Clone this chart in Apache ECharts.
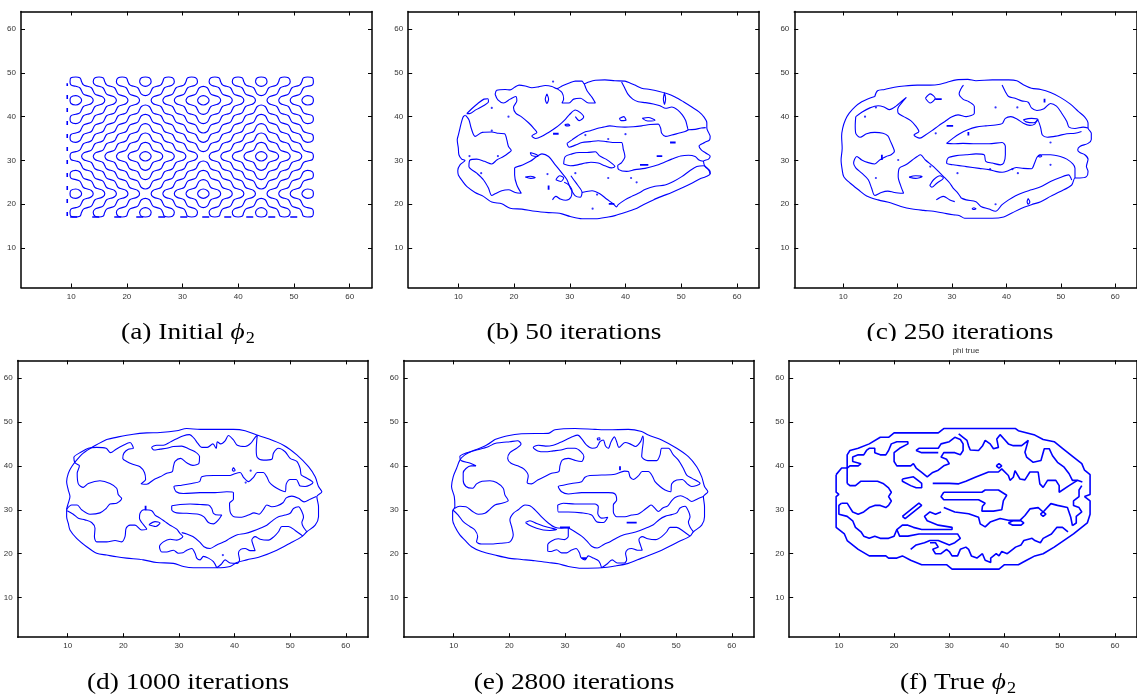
<!DOCTYPE html>
<html><head><meta charset="utf-8">
<script src="https://cdn.jsdelivr.net/npm/echarts/dist/echarts.min.js"></script>
<style>html,body{margin:0;padding:0;background:#fff}#c{width:1137px;height:699px}</style>
</head><body><div id="c"></div>
<script>
// ================= DATA =================
const tickValues = [10, 20, 30, 40, 50, 60];
const captions = ["(a) Initial ", "(b) 50 iterations", "(c) 250 iterations", "(d) 1000 iterations", "(e) 2800 iterations", "(f) True "];

// ---- Panel (a): initial checker pattern: grid lines, cell signs, saddle turn directions
const aLinesX = [9.8,11.88,13.96,16.04,18.12,20.2,22.28,24.36,26.44,28.52,30.6,32.68,34.76,36.84,38.92,41.0,43.08,45.16,47.24,49.32,51.4,53.48];
const aLinesY = [17.1,19.23,21.36,23.49,25.62,27.75,29.88,32.01,34.14,36.27,38.4,40.53,42.66,44.79,46.92,49.05];
const aCells = [
"-+-+-+-+-+-+-+-+-+-+-","+-+-+-+-+-+-+-+-+-+-+","-+-+-+-+-+-+-+-+-+-+-","+-+-+-+-+-+-+-+-+-+-+",
"-+-+-+-+-+-+-+-+-+-+-","+-+-+-+-+-+-+-+-+-+-+","-+-+-+-+-+-+-+-+-+-+-","+-+-+-+-+-+-+-+-+-+-+",
"-+-+-+-+-+-+-+-+-+-+-","+-+-+-+-+-+-+-+-+-+-+","-+-+-+-+-+-+-+-+-+-+-","+-+-+-+-+-+-+-+-+-+-+",
"-+-+-+-+-+-+-+-+-+-+-","+-+-+-+-+-+-+-+-+-+-+","-+-+-+-+-+-+-+-+-+-+-"];
const aTurns = [
"FFFFFFRRRRRFFFFFRRRR","FFFFFFRRRRRFFFFFRRRR",
"RRRRRRFFFFFRRRRRFFFF","RRRRRRFFFFFRRRRRFFFF","RRRRRRFFFFFRRRRRFFFF","RRRRRRFFFFFRRRRRFFFF","RRRRRRFFFFFRRRRRFFFF","RRRRRRFFFFFRRRRRFFFF",
"FFFFFFRRRRRFFFFFRRRR","FFFFFFRRRRRFFFFFRRRR","FFFFFFRRRRRFFFFFRRRR","FFFFFFRRRRRFFFFFRRRR",
"RRRRRRFFFFFRRRRRFFFF","RRRRRRFFFFFRRRRRFFFF"];
const aEdgeDashLeft = [9.3, 17.3, 9.3, 47.6];
const aEdgeDashBottom = [9.3, 17.1, 52.2, 17.1];

// ---- Panel (b): 50 iterations
const bOuter = [16.6,45.1, 16.9,46.0, 18.4,46.2, 19.3,46.1, 20.1,46.7, 20.9,47.2, 22.0,47.0, 23.2,46.6, 24.4,46.8, 25.6,47.1, 26.8,46.9, 27.7,46.4, 28.6,47.0, 29.8,47.6, 31.0,48.1, 32.2,48.1, 32.6,47.5, 33.4,47.9, 34.6,48.3, 36.3,48.4, 38.1,48.2, 39.9,48.1, 40.8,47.7, 41.7,47.2, 42.9,46.5, 44.4,46.2, 45.9,45.8, 47.4,45.3, 48.9,44.5, 50.4,43.4, 51.9,42.2, 53.2,41.1, 54.1,39.9, 54.6,38.6, 54.6,37.4, 54.9,36.4, 55.2,35.5, 55.1,34.7, 54.2,34.1, 53.2,33.3, 53.6,32.4, 54.4,31.7, 55.2,31.0, 54.9,30.3, 54.0,29.8, 54.3,28.6, 55.2,27.5, 55.2,26.9, 54.4,26.3, 53.4,25.8, 51.9,24.8, 50.1,23.7, 48.3,22.7, 46.5,21.8, 45.0,21.0, 43.2,19.9, 41.7,18.9, 39.9,18.1, 38.1,17.4, 36.9,17.1, 34.6,16.7, 32.2,16.7, 30.1,17.2, 28.6,17.8, 27.7,18.0, 26.2,18.1, 23.8,18.4, 21.4,18.9, 19.3,19.1, 17.8,20.1, 16.0,20.5, 14.5,21.8, 13.0,22.7, 11.5,24.1, 10.9,25.0, 10.0,26.7, 9.9,27.7, 10.3,29.0, 11.2,30.0, 10.6,30.3, 10.1,31.3, 10.0,32.8, 9.8,34.7, 10.0,35.8, 10.3,37.4, 10.6,38.9, 10.9,40.0, 11.3,40.3];
const bLeft = [11.3,40.3, 11.9,39.3, 12.3,37.4, 13.0,35.5, 14.3,36.4, 16.0,36.5, 17.2,36.2, 18.3,36.1, 18.7,34.7, 19.0,33.2, 19.5,32.3, 19.0,31.7, 18.1,30.9, 16.9,30.1, 16.0,29.2, 14.7,29.8, 13.3,30.3, 12.1,30.1, 11.9,28.6, 13.3,27.1, 14.5,25.6, 15.4,23.7, 16.0,22.0, 16.6,22.4, 17.8,23.1, 19.0,23.3, 20.2,22.7, 21.3,22.5, 20.5,24.4, 20.1,26.7, 20.1,28.2, 21.4,28.9, 22.9,29.8, 24.1,30.9, 25.0,31.5, 26.2,30.9, 27.4,29.0, 28.6,27.1, 29.5,25.6, 30.1,23.7, 31.0,21.9, 31.9,21.6, 32.2,22.7, 31.4,24.4, 30.7,25.6, 30.2,26.5];
const bTop = [16.6,45.1, 17.1,43.8, 18.1,43.1, 19.3,44.0, 20.3,44.6, 20.5,43.6, 19.9,42.1, 20.3,40.8, 21.4,39.9, 22.6,38.6, 23.5,37.4, 24.1,36.4, 23.2,35.6, 23.9,35.0, 25.0,35.5, 26.2,36.4, 27.4,37.4, 28.3,38.3, 29.2,39.4, 29.9,40.4, 31.0,41.5, 31.9,40.9, 32.5,39.9, 31.7,39.1, 31.0,40.0];
const bNotch = [27.7,46.4, 28.6,45.5, 28.9,44.0, 28.6,43.1, 29.8,43.1, 30.7,44.0, 31.9,44.2, 33.4,43.1, 34.6,43.1, 34.0,44.4, 33.1,45.9, 32.6,47.5];
const bRightTop = [39.3,47.9, 39.8,46.7, 40.4,45.2, 41.3,44.0, 42.3,43.4, 43.6,43.2, 45.0,42.9, 46.2,42.5, 47.2,41.9, 48.3,42.2, 49.4,41.5, 50.2,40.4, 50.8,39.1, 51.1,37.7, 51.3,37.0, 52.5,37.1, 53.6,37.4, 54.4,37.5];
const bMidTop = [29.5,33.9, 30.4,34.7, 31.4,35.6, 32.5,36.4, 33.7,36.8, 34.9,37.3, 36.0,37.6, 37.2,37.9, 38.4,37.7, 39.9,37.6, 41.4,37.7, 42.9,37.9, 44.4,38.2, 45.9,38.3, 46.3,37.4, 46.5,36.2, 47.2,35.5, 48.3,35.8, 49.5,36.2, 50.7,36.6, 51.3,37.0];
const bMidBot = [29.5,33.9, 29.9,33.0, 31.0,33.5, 32.2,34.1, 33.7,34.3, 35.1,34.5, 36.6,34.3, 38.1,34.1, 39.3,34.1, 39.6,32.6, 39.9,30.9, 39.3,29.5, 38.6,28.8, 38.8,27.9, 40.2,27.5, 41.7,27.9, 43.5,28.2, 45.3,28.8, 46.8,29.5, 48.3,30.3, 49.9,31.0, 51.3,31.2, 52.5,30.9, 53.2,30.1, 54.0,29.8];
const bLowMid = [26.9,21.0, 27.5,21.8, 28.3,21.2, 29.3,20.9, 30.2,21.6, 30.4,23.1, 29.8,24.4, 29.0,25.0];
const bLowRight = [32.2,22.7, 34.0,23.1, 35.4,22.4, 36.6,21.2, 37.8,20.1, 38.4,19.4, 38.7,19.9, 39.9,21.0, 41.1,21.8, 42.3,22.5, 43.6,23.4, 45.3,24.1, 47.1,24.4, 48.6,25.2, 50.1,26.3, 51.6,27.7, 52.8,28.6, 54.0,28.8, 54.9,27.9, 55.2,26.9];
const bLoops = [
  [11.5,40.7, 12.4,41.8, 13.5,43.0, 14.6,44.0, 15.3,44.1, 15.4,43.4, 14.5,42.5, 13.2,41.6, 12.0,40.7],
  [28.9,29.2, 29.2,30.9, 30.4,31.5, 31.7,31.8, 33.1,31.8, 34.6,32.0, 35.3,31.1, 36.5,30.3, 37.5,29.4, 38.1,28.6, 37.5,28.3, 36.3,28.8, 35.1,29.4, 33.8,29.6, 32.8,29.4, 31.4,29.0, 30.1,28.8],
  [25.9,45.2, 26.2,44.0, 25.9,43.0, 25.6,44.0],
  [47.0,45.5, 47.2,44.1, 47.0,42.8, 46.8,44.1],
  [29.1,38.2, 29.7,38.3, 30.0,38.0, 29.4,37.9],
  [22.0,26.2, 23.0,26.4, 23.8,26.1, 23.0,25.9],
  [22.9,31.8, 24.1,31.3, 24.3,30.9, 23.2,31.1],
  [27.5,25.6, 28.2,26.5, 28.9,26.0, 28.4,25.2],
  [38.9,39.6, 39.7,40.0, 40.1,39.2, 39.2,39.1],
  [43.0,39.6, 44.1,39.8, 45.3,39.2, 44.0,39.0]
];
const bBars = [[27.0,36.1, 28.0,36.1], [42.6,29.0, 44.1,29.0], [45.6,31.0, 46.6,31.0], [48.0,34.1, 49.0,34.1], [26.2,23.3, 26.2,24.3], [37.0,20.1, 38.0,20.1]];
const bDots = [16.0,36.8, 17.1,31.0, 14.1,27.1, 26.0,26.9, 31.0,27.1, 36.9,26.0, 41.0,26.0, 42.0,25.0, 34.9,22.2, 34.1,19.0, 32.8,35.8, 36.9,34.9, 19.0,40.0, 12.0,31.0, 16.0,42.0, 40.0,36.0, 27.0,48.0];

// ---- Panel (c): 250 iterations
const cOuter = [15.8,44.6, 16.3,45.9, 17.6,46.2, 19.4,46.7, 21.2,47.0, 23.6,47.2, 26.0,47.2, 27.8,47.4, 29.0,47.8, 30.8,48.4, 32.9,48.5, 34.4,48.2, 37.4,48.4, 40.4,48.4, 41.9,48.2, 43.1,47.3, 44.6,46.5, 46.3,46.2, 48.1,45.5, 49.9,44.4, 51.7,42.9, 53.2,41.2, 54.4,39.9, 55.0,38.5, 55.0,37.4, 55.6,36.2, 55.6,34.8, 55.0,33.9, 53.5,33.2, 53.1,32.4, 53.5,31.8, 54.4,31.3, 55.0,30.3, 54.7,28.6, 55.0,27.5, 54.7,26.3, 53.5,26.0, 52.6,26.0, 52.0,24.4, 49.9,22.9, 48.1,21.8, 46.3,20.6, 44.6,19.9, 42.8,19.1, 41.0,18.0, 39.5,17.1, 37.4,16.8, 34.4,16.8, 32.3,16.8, 31.4,17.4, 30.2,17.6, 28.4,18.0, 26.6,18.4, 24.8,18.6, 22.7,18.9, 20.6,19.5, 18.8,20.3, 16.4,21.0, 14.3,21.9, 12.8,23.3, 11.3,24.8, 10.1,26.3, 9.8,27.9, 9.6,30.1, 9.8,32.8, 9.7,35.5, 9.9,37.4, 10.4,39.3, 11.1,40.8, 12.2,42.3, 13.4,43.4, 14.6,44.1, 15.8,44.6];
const cLeft = [12.3,40.0, 12.2,37.9, 12.3,36.2, 13.1,35.3, 14.3,36.1, 15.8,36.4, 17.3,36.2, 18.2,35.6, 18.7,34.3, 19.1,33.2, 19.4,32.1, 18.8,31.3, 17.9,30.9, 16.7,30.1, 15.8,29.2, 14.6,29.5, 13.4,30.1, 12.5,30.9, 11.9,29.4, 12.3,28.3, 13.4,27.1, 14.6,25.6, 15.2,23.7, 15.8,22.0, 17.0,22.7, 18.2,23.0, 19.4,22.7, 21.1,22.5, 20.6,24.1, 20.1,26.3, 20.3,28.2, 21.5,29.0, 22.7,30.1, 23.6,30.9, 24.2,31.3, 25.1,30.1, 26.6,28.6, 27.8,27.1, 28.7,26.0, 29.6,24.8, 30.2,23.7, 31.1,22.5, 31.7,21.4];
const cTopLeft = [12.3,40.0, 13.4,41.0, 14.9,42.0, 16.4,42.5, 17.5,42.2, 18.5,41.6, 19.7,42.4, 20.7,43.5, 21.6,44.4, 20.7,43.1, 20.0,41.7, 20.1,40.8, 21.1,40.0, 22.4,39.1, 23.3,37.9, 23.9,36.6, 23.0,35.8, 24.1,35.1, 25.1,35.8, 26.3,36.8, 27.5,37.9, 28.7,38.9, 29.9,39.9, 31.1,40.4, 32.6,40.0, 34.1,40.8, 34.1,42.3, 33.1,43.4, 32.0,44.0, 31.3,45.2, 31.7,46.5, 32.1,47.2];
const cRightTop = [39.2,47.2, 39.8,45.7, 40.4,44.6, 41.6,44.2, 42.8,43.6, 44.0,43.3, 44.6,42.0, 45.6,41.4, 46.9,41.8, 48.1,43.0, 49.2,42.4, 50.1,40.9, 51.1,38.9, 51.5,37.6, 52.6,37.3, 54.1,37.6, 55.0,37.4];
const cMidTop = [29.0,33.9, 30.2,35.1, 31.4,36.1, 32.9,37.0, 34.4,37.6, 36.2,37.9, 38.0,38.1, 39.2,38.4, 39.8,39.6, 40.8,40.0, 42.0,39.4, 43.1,38.5, 44.3,38.0, 45.2,38.3, 45.7,39.3, 46.3,37.4, 46.6,35.8, 47.5,35.3, 49.3,35.6, 51.1,36.1, 52.6,36.2, 53.8,36.6];
const cMidBot = [29.0,33.9, 30.2,33.8, 32.0,33.9, 34.4,33.8, 36.8,33.8, 39.2,34.1, 39.8,33.2, 39.8,31.3, 39.5,29.4, 38.9,29.0, 37.4,29.4, 36.2,29.8, 35.9,31.3, 34.4,31.5, 32.6,31.3, 30.8,31.1, 29.3,30.6, 29.0,29.4, 30.2,29.0, 32.6,28.6, 35.0,28.2, 36.8,27.9, 38.0,27.5, 39.2,27.3, 40.4,27.7, 41.8,28.4, 43.1,28.2, 44.6,28.1, 45.2,29.5, 45.7,30.9, 46.6,31.3, 48.1,31.3, 49.9,30.9, 51.1,30.3, 52.2,29.2, 52.6,28.2, 52.6,26.0];
const cLow = [31.7,21.4, 32.6,21.0, 34.4,20.6, 35.3,19.5, 36.8,18.9, 38.0,18.4, 39.2,19.9, 40.4,21.0, 41.6,21.9, 43.1,22.7, 44.6,23.3, 46.3,24.0, 48.1,25.2, 49.9,26.1, 51.4,26.7, 52.0,25.5];
const cLowMid = [27.1,21.0, 28.4,21.8, 29.6,21.0, 30.5,20.6];
const cLoops = [
  [25.1,44.2, 26.0,45.2, 26.9,44.2, 26.0,43.1],
  [22.1,26.2, 23.3,26.5, 24.5,26.3, 23.3,25.9],
  [25.9,24.3, 26.6,25.6, 27.8,26.5, 28.4,26.0, 27.2,24.8, 26.3,23.9],
  [43.1,39.3, 44.6,39.6, 45.8,39.3, 45.0,38.6, 43.6,38.8],
  [34.0,19.2, 34.4,19.0, 34.0,18.8, 33.7,19.0],
  [44.0,21.3, 44.3,20.5, 44.0,20.0, 43.8,20.6],
  [45.8,31.1, 46.2,31.3, 46.5,31.0, 46.1,30.8]
];
const cBars = [[17.1,31.3, 17.1,30.1], [26.9,44.0, 28.1,44.0], [33.0,36.5, 33.0,35.7], [47.0,44.1, 47.0,43.2], [29.0,37.9, 30.2,37.9]];
const cDots = [14.0,40.0, 16.0,42.1, 16.0,26.0, 20.1,30.1, 26.0,28.6, 31.0,27.1, 38.0,20.0, 38.0,42.1, 42.0,42.1, 48.1,34.1, 41.1,28.0, 42.1,27.1, 48.1,29.0, 27.0,36.2, 37.0,28.0];

// ---- Panel (d): 1000 iterations
const dOuter = [17.0,46.0, 19.1,46.6, 21.8,47.2, 24.2,47.5, 26.6,47.6, 29.6,48.0, 31.4,48.5, 33.8,48.3, 36.8,48.3, 39.8,48.3, 41.9,48.0, 44.0,47.0, 45.8,46.3, 48.8,44.7, 51.2,42.5, 53.3,39.8, 54.5,37.5, 55.1,35.3, 55.7,34.1, 54.8,33.0, 55.1,30.7, 55.1,28.4, 54.5,26.5, 53.0,25.0, 52.1,23.9, 50.0,22.4, 47.6,20.8, 44.6,19.3, 42.2,18.6, 40.4,18.0, 39.2,17.1, 36.8,16.8, 32.6,16.8, 30.8,17.1, 29.0,17.8, 26.0,18.0, 23.6,18.6, 20.6,19.0, 18.8,19.3, 17.0,19.7, 15.2,20.1, 13.4,21.6, 11.6,23.5, 10.4,25.4, 10.1,26.9, 9.8,28.4, 9.8,30.0, 10.1,31.5, 10.4,33.0, 10.1,34.5, 9.8,36.4, 10.1,38.3, 10.7,39.8, 11.6,41.3, 12.8,42.9, 14.6,44.4, 17.0,46.0];
const dInner1 = [9.8,30.1, 10.7,31.1, 11.7,31.1, 12.5,30.0, 14.0,29.0, 15.8,29.3, 16.9,30.3, 17.6,31.3, 18.8,31.5, 19.7,32.6, 19.1,33.4, 18.8,34.9, 17.6,36.0, 15.8,36.6, 13.7,36.0, 12.8,35.1, 11.9,35.9, 11.7,38.3, 12.1,40.0, 11.3,40.7, 11.1,41.9, 12.5,43.2, 13.7,44.0, 15.2,44.2, 16.9,44.0, 17.7,43.0, 18.7,43.8, 20.0,44.7, 21.2,45.3, 21.8,44.0, 20.9,43.8, 20.1,42.9, 19.9,41.7, 20.6,41.0, 21.8,40.3, 23.0,39.8, 23.8,38.5, 24.0,36.9, 23.2,35.9, 24.2,35.8, 25.4,36.8, 26.6,37.5, 27.8,38.3, 28.8,38.7, 29.0,39.8, 29.3,41.0, 30.3,41.7, 31.4,40.7, 32.5,40.1, 33.6,40.6, 33.7,42.1, 32.9,43.2, 31.7,43.9, 30.5,44.5, 29.0,44.4, 27.8,44.0, 26.6,43.8, 25.5,43.6, 25.1,44.2, 26.0,44.7, 27.2,44.7, 28.4,45.4, 29.5,46.1, 30.7,46.8, 31.9,47.1, 32.7,46.3, 33.4,45.1, 34.1,44.2, 35.1,44.2, 36.1,45.0, 36.7,44.0, 36.9,45.5, 37.5,45.0, 38.3,45.7, 38.9,46.9, 39.8,45.9, 40.5,44.7, 41.9,44.4, 42.9,45.1, 43.7,46.5, 44.1,47.0, 44.0,45.9, 43.9,43.6, 44.1,41.9, 45.2,41.3, 46.7,41.5, 47.0,42.9, 47.9,44.0, 49.1,43.2, 50.0,41.7, 51.2,41.0, 51.8,39.4, 52.0,37.9, 52.7,37.4, 54.1,36.2, 52.7,35.3, 51.8,35.4, 51.1,36.9, 50.0,36.9, 49.3,35.9, 49.1,34.1, 48.2,34.5, 47.1,35.3, 46.3,36.2, 45.8,37.5, 45.2,38.5, 44.1,38.5, 43.4,37.4, 42.5,36.4, 41.6,37.4, 41.0,38.5, 39.8,38.1, 39.2,37.8, 36.2,37.8, 34.1,37.5, 33.7,36.4, 32.3,36.0, 30.5,35.6, 29.1,35.3, 29.5,34.1, 30.8,33.7, 33.8,33.9, 36.5,33.9, 38.6,34.1, 39.8,33.9, 39.8,32.4, 39.1,31.5, 39.2,29.6, 39.9,28.4, 41.3,28.3, 42.5,28.8, 43.5,29.3, 44.4,29.0, 45.2,30.1, 45.8,31.1, 46.7,30.7, 47.7,30.9, 48.7,31.6, 49.3,32.7, 50.3,33.1, 51.5,32.6, 52.5,31.8, 53.6,32.4, 54.7,33.0];
const dInner3 = [9.9,29.8, 11.0,29.0, 11.9,28.1, 13.1,27.7, 14.3,27.1, 14.9,25.8, 14.8,23.9, 15.2,22.7, 17.0,22.7, 18.5,23.0, 19.7,22.7, 20.3,23.9, 20.5,25.8, 21.2,26.5, 22.1,26.5, 23.3,25.4, 24.2,25.6, 23.3,27.1, 22.9,28.1, 23.0,29.2, 23.7,30.0, 25.1,29.8, 25.7,28.8, 26.6,28.1, 27.5,27.3, 28.4,26.5, 29.6,25.6, 30.2,24.6, 30.7,23.9, 29.6,23.1, 28.4,23.3, 27.2,22.7, 26.5,21.6, 26.9,20.4, 27.8,20.4, 29.0,20.8, 29.9,20.1, 30.7,20.2, 31.4,20.8, 32.3,21.2, 32.9,20.1, 33.2,19.0, 33.8,18.6, 34.4,19.4, 35.3,19.0, 36.2,18.2, 36.8,16.8];
const dInner4 = [52.3,24.0, 50.9,25.3, 49.7,26.2, 48.5,26.2, 47.9,25.0, 47.1,23.9, 46.1,23.1, 44.6,23.3, 43.7,23.9, 43.1,23.1, 43.4,21.8, 43.7,20.7, 42.8,20.7, 41.9,21.2, 41.1,21.0, 40.7,20.1, 40.9,18.6, 40.5,17.8, 39.2,17.9, 38.3,18.6, 37.6,17.6, 36.8,16.8];
const dInner6 = [30.5,24.8, 31.4,24.5, 32.5,23.9, 33.7,22.7, 34.5,21.6, 35.6,21.2, 36.8,22.0, 38.1,22.7, 39.2,23.5, 40.5,24.3, 41.9,24.6, 43.4,25.2, 44.6,25.8, 45.8,26.5, 47.0,27.7, 47.9,28.4, 49.1,28.8, 50.0,29.2, 50.6,30.3, 51.5,30.7, 52.1,29.6, 52.4,28.3, 52.1,27.1, 52.4,26.0, 53.0,25.0];
const dLoops = [
  [28.7,30.9, 30.2,31.2, 32.0,31.3, 33.8,31.2, 35.3,31.1, 35.9,30.3, 36.2,29.2, 37.1,28.8, 37.7,28.8, 37.1,27.7, 36.2,26.8, 35.3,27.1, 34.5,28.4, 33.5,29.0, 31.4,29.2, 29.6,29.3, 28.7,30.0],
  [24.6,26.6, 25.7,27.3, 26.6,27.0, 25.8,26.2],
  [39.8,39.6, 40.1,39.0, 39.8,38.8, 39.6,39.1]
];
const dBars = [[24.0,30.9, 24.0,29.9]];
const dDots = [42.9,38.9, 42.0,36.2, 37.9,19.7];

// ---- Panel (e): 2800 iterations
const eOuter = [17.4,46.0, 19.5,46.8, 22.2,47.3, 27.0,47.4, 28.2,48.2, 31.8,48.5, 35.4,48.3, 37.8,48.2, 41.4,48.3, 43.8,47.8, 45.0,47.0, 47.4,45.9, 50.1,44.0, 52.2,42.1, 53.7,39.8, 54.6,37.5, 55.1,35.3, 55.7,34.1, 54.9,33.0, 55.1,30.7, 55.1,28.4, 54.6,26.5, 53.1,25.0, 52.5,24.0, 50.4,22.7, 47.4,20.8, 43.8,19.0, 41.4,17.8, 39.0,17.2, 36.6,16.8, 33.0,16.7, 30.6,17.1, 28.8,17.7, 27.0,18.0, 24.6,18.4, 22.2,18.7, 19.8,19.0, 17.4,19.7, 15.0,20.5, 13.2,21.6, 12.0,23.1, 11.1,24.3, 10.2,26.2, 9.8,27.7, 9.8,29.6, 10.2,30.7, 10.1,33.0, 9.6,35.3, 9.9,37.5, 10.5,39.4, 11.1,41.3, 12.0,42.5, 13.8,43.6, 15.6,44.5, 17.4,46.0];
const eInner1 = [10.1,30.3, 11.1,30.8, 12.2,30.7, 13.4,29.6, 14.4,29.0, 15.6,29.2, 16.5,30.1, 17.4,31.1, 18.7,31.5, 19.8,32.1, 19.2,33.4, 18.9,34.9, 17.7,36.2, 16.5,36.6, 15.1,36.5, 14.1,35.9, 13.4,34.9, 12.2,35.3, 11.7,36.8, 11.7,38.4, 12.2,39.4, 13.1,40.0, 14.0,40.0, 13.0,40.6, 11.3,41.2, 11.1,42.1, 12.2,42.9, 13.8,43.5, 15.3,44.0, 16.3,44.4, 17.4,45.1, 18.6,45.3, 20.1,45.5, 21.5,45.7, 22.1,45.0, 21.3,44.0, 20.1,43.0, 19.7,41.7, 20.3,40.6, 21.5,40.0, 22.7,39.2, 23.4,37.7, 23.2,36.2, 24.0,35.9, 25.1,36.8, 26.3,37.5, 27.6,38.3, 28.9,38.7, 29.1,40.0, 29.5,41.3, 30.6,41.7, 31.9,41.2, 33.0,41.0, 33.4,42.1, 32.9,43.2, 31.8,44.0, 30.5,44.0, 29.3,43.6, 27.9,43.4, 26.5,43.2, 25.1,43.4, 24.3,44.2, 25.2,44.7, 26.5,44.5, 27.9,44.7, 29.1,45.3, 30.3,46.0, 31.3,46.6, 32.3,47.0, 33.1,46.0, 33.9,44.7, 34.9,44.0, 35.7,44.2, 36.3,45.5, 36.9,45.9, 37.3,44.5, 37.8,44.0, 38.3,45.5, 38.9,46.6, 39.3,45.5, 39.7,44.2, 40.8,45.3, 41.7,45.0, 42.7,44.4, 43.6,45.5, 44.0,46.8, 44.1,45.9, 43.9,43.6, 43.8,42.1, 44.9,41.2, 46.5,41.2, 47.1,42.5, 47.4,44.0, 48.6,44.0, 49.5,42.5, 50.4,41.3, 51.3,39.4, 51.9,37.9, 52.8,37.2, 54.3,36.0, 52.8,35.3, 52.0,35.9, 51.1,36.9, 50.1,36.8, 49.2,35.9, 49.0,34.1, 48.0,34.5, 47.1,35.3, 46.2,36.4, 45.7,37.7, 45.0,38.7, 43.9,38.7, 43.2,37.7, 42.3,36.9, 41.7,37.5, 41.4,38.7, 40.7,38.8, 39.0,38.1, 36.6,37.9, 34.5,37.8, 33.6,37.4, 33.0,36.4, 31.2,36.0, 29.7,35.6, 28.8,35.3, 29.4,34.1, 30.6,33.6, 33.0,33.9, 35.4,33.9, 37.8,33.9, 39.0,33.6, 39.3,32.2, 38.7,31.1, 38.7,29.6, 39.3,28.4, 40.8,28.4, 42.0,28.8, 43.1,29.0, 44.1,29.8, 45.0,30.7, 45.5,31.1, 46.2,30.3, 46.8,29.6, 47.6,30.4, 48.5,30.9, 49.1,31.9, 49.8,32.8, 50.8,33.2, 51.9,32.6, 52.8,31.9, 53.9,32.5, 54.9,33.0];
const eInner3 = [9.8,30.0, 10.8,28.8, 11.7,27.3, 12.9,26.2, 13.8,25.4, 14.3,23.9, 14.1,22.7, 15.0,22.2, 16.8,22.2, 18.6,22.4, 20.1,22.7, 20.7,24.3, 20.4,26.2, 20.1,27.7, 20.7,29.2, 21.6,30.0, 22.8,31.1, 23.7,30.9, 24.6,30.0, 25.8,28.4, 27.0,27.0, 28.2,26.0, 29.4,25.8, 30.6,25.9, 30.6,24.0, 29.9,23.2, 28.8,23.4, 27.6,22.9, 26.9,22.0, 26.9,20.6, 27.5,20.5, 28.5,20.9, 29.4,20.2, 30.3,20.2, 31.1,20.8, 32.0,21.2, 32.6,20.2, 32.9,19.1, 33.6,18.6, 34.2,19.5, 35.1,19.0, 36.1,18.3, 36.6,16.8];
const eInner4 = [52.5,24.0, 51.3,25.1, 50.1,26.0, 48.9,26.0, 48.3,25.0, 47.4,23.9, 46.3,23.2, 44.9,23.4, 43.9,23.9, 43.3,23.2, 43.6,21.9, 43.9,20.8, 43.0,20.8, 42.0,21.2, 41.3,21.0, 40.9,20.1, 41.1,18.7, 40.7,17.9, 39.4,17.9, 38.5,18.6, 37.5,17.6, 36.6,16.8];
const eInner6 = [30.6,25.9, 31.8,25.0, 33.0,24.0, 34.0,22.8, 34.8,21.7, 35.8,21.3, 37.0,22.1, 38.2,22.8, 39.3,23.6, 40.6,24.3, 42.0,24.7, 43.5,25.3, 44.7,25.9, 45.9,26.6, 47.0,27.8, 48.0,28.5, 49.2,28.9, 50.1,29.3, 50.7,30.4, 51.6,30.8, 52.2,29.7, 52.5,28.4, 52.2,27.2, 52.5,26.1, 53.1,25.0];
const eLoops = [
  [28.7,31.1, 29.7,31.5, 31.8,31.3, 33.9,31.3, 35.4,31.3, 36.0,30.7, 35.9,29.2, 36.6,28.1, 37.7,28.3, 36.9,27.1, 35.7,27.3, 34.8,28.8, 33.0,29.3, 30.6,29.5, 28.8,29.5],
  [22.9,27.1, 23.7,26.4, 24.9,25.8, 26.1,25.4, 27.3,25.3, 28.5,25.5, 27.3,25.9, 26.1,26.3, 24.9,26.9, 23.7,27.5],
  [35.8,46.3, 36.2,46.4, 36.3,46.0, 35.9,45.9]
];
const eBars = [[29.1,26.0, 30.9,26.0], [41.1,27.1, 42.9,27.1], [33.0,19.0, 33.9,19.0], [39.9,39.9, 39.9,39.0]];
const eDots = [];

// ---- Panel (f): true phi
const fOuter = [9.5,38.0, 9.5,34.0, 10.0,33.5, 9.5,33.0, 9.5,26.0, 11.0,24.5, 11.5,23.0, 13.5,21.0, 15.5,19.5, 18.5,19.5, 19.0,19.0, 20.5,19.0, 21.5,19.5, 23.0,18.5, 25.0,17.5, 29.5,17.5, 30.5,16.5, 39.0,16.5, 40.0,17.5, 42.5,17.5, 44.0,18.5, 45.5,19.5, 47.0,20.0, 49.0,21.5, 52.5,24.5, 55.0,27.0, 55.5,29.0, 55.5,32.0, 54.5,33.0, 55.5,33.5, 55.5,38.0, 54.5,39.0, 54.0,40.5, 52.5,42.0, 50.5,44.0, 49.0,45.5, 47.0,46.0, 45.5,47.0, 42.5,48.0, 42.0,48.5, 29.0,48.5, 28.0,47.5, 20.0,47.5, 19.0,46.5, 17.5,46.5, 15.5,45.0, 13.5,44.0, 12.0,43.5, 11.5,42.5, 11.5,39.5, 10.5,39.5, 9.5,38.0];
const fA = [11.5,36.0, 11.5,39.5, 12.0,40.0, 13.5,40.0, 14.0,40.5, 12.5,41.0, 12.5,42.0, 13.5,42.5, 14.5,42.5, 15.0,43.5, 15.5,44.0, 16.5,44.0, 16.5,43.0, 17.5,42.5, 18.5,42.5, 19.0,43.5, 19.5,45.0, 20.5,45.5, 22.5,45.5, 22.5,45.0, 21.0,44.0, 20.0,43.0, 20.0,41.0, 20.5,40.0, 23.0,40.0, 23.5,40.5, 24.0,39.5, 25.0,38.5, 26.0,37.5, 27.0,38.5, 28.0,39.0, 29.0,40.0, 30.0,40.5, 29.5,41.5, 28.5,42.0, 29.0,43.0, 31.0,43.0, 32.0,42.5, 32.5,43.5, 32.5,45.0, 32.0,46.0, 31.0,46.5, 30.0,45.5, 28.5,45.0, 28.0,44.0, 24.5,44.0, 24.0,43.5, 25.0,43.0, 28.0,43.0];
const fB = [10.5,31.5, 11.5,31.5, 12.0,30.5, 12.5,29.5, 13.5,29.0, 14.5,29.5, 15.5,30.5, 16.5,31.0, 17.5,31.0, 18.5,30.5, 19.0,31.0, 19.5,32.0, 19.0,33.0, 19.5,34.0, 19.0,35.0, 18.0,36.0, 17.0,36.5, 14.0,36.5, 13.0,35.5, 12.0,35.5, 11.5,36.0];
const fC = [10.5,31.5, 10.0,31.0, 10.0,29.0, 11.5,28.5, 12.5,27.5, 13.0,26.0, 14.0,25.0, 14.5,24.0, 15.5,23.5, 16.5,24.0, 17.5,23.5, 19.0,23.5, 20.0,24.0, 20.5,25.5, 21.5,26.5, 22.5,26.5, 23.5,26.0, 25.0,25.5, 30.5,25.5, 30.5,26.0, 28.0,26.5, 26.0,27.5, 25.5,28.5, 26.5,29.5, 27.5,29.0, 28.5,29.5];
const fE = [27.0,36.0, 28.5,36.0, 30.0,36.0, 31.7,35.9, 33.0,36.5, 34.7,37.4, 37.1,38.6, 38.9,38.6, 39.5,39.3, 40.7,37.8, 41.0,36.7, 41.6,37.4, 41.9,38.9, 42.8,37.0, 43.7,36.8, 44.6,38.6, 46.1,38.6, 46.4,35.9, 47.0,35.1, 47.8,36.7, 49.3,36.7, 49.9,35.5, 49.9,34.0, 51.7,35.5, 53.2,36.7, 54.1,36.3];
const fF = [31.7,47.3, 32.5,46.5, 33.2,45.8, 33.5,44.5, 33.8,43.6, 35.3,43.5, 36.0,44.5, 36.5,45.8, 37.4,45.0, 38.0,43.9, 38.9,44.2, 38.6,46.1, 39.2,47.1, 40.0,46.0, 40.7,45.0, 41.6,44.6, 43.1,44.6, 44.3,45.8, 43.7,43.1, 44.0,42.0, 45.2,40.8, 46.6,41.2, 47.2,43.9, 48.1,43.9, 48.7,42.3, 49.6,40.8, 50.8,39.7, 51.7,38.2, 52.3,36.7, 53.2,36.7];
const fG = [26.5,22.5, 27.5,22.5, 28.0,21.5, 27.0,21.0, 27.5,20.0, 28.5,20.0, 29.5,21.0, 30.0,20.5, 30.5,19.5, 31.5,19.5, 32.0,21.0, 33.0,21.5, 33.5,21.0, 34.0,19.5, 35.0,19.0, 36.0,20.0, 36.5,18.5, 37.5,18.0, 37.5,19.0, 38.5,20.0, 39.0,19.5, 39.5,20.5, 40.5,20.0, 41.5,21.0, 42.0,21.5, 43.0,22.0, 43.5,23.0, 45.0,23.5, 45.5,23.0, 46.5,22.5, 47.0,23.5, 48.5,24.5, 49.5,26.0, 50.5,26.0, 51.5,25.0];
const fH = [29.0,30.5, 31.0,29.5, 33.5,29.1, 35.3,28.3, 35.6,26.8, 36.5,26.1, 37.4,27.2, 39.2,28.0, 40.7,27.6, 42.8,27.6, 43.7,28.7, 44.6,30.2, 46.1,30.5, 47.0,29.5, 48.4,31.4, 49.6,31.0, 51.4,30.5, 52.0,28.3, 52.3,26.4];
const fI = [20.5,25.5, 21.0,24.0, 22.5,24.0, 24.5,24.5, 31.5,24.5, 32.0,23.5, 31.0,22.5, 30.0,22.0, 29.0,22.5, 28.0,23.0, 26.5,23.0, 25.5,22.5, 24.0,22.0, 23.0,21.0];
const fJ = [52.3,26.4, 53.0,27.0, 53.0,28.5, 54.0,29.5, 53.5,30.5, 52.5,31.0, 52.5,32.0, 53.5,33.0, 53.5,34.5, 54.0,35.5];
const fLoops = [
  [21.5,28.5, 24.5,31.5, 25.0,31.0, 22.0,28.0],
  [21.5,37.0, 23.5,37.5, 24.5,36.5, 25.0,36.0, 25.0,35.0, 24.0,35.0, 23.0,35.5, 21.5,36.5],
  [29.0,34.0, 35.9,34.0, 36.5,34.5, 38.9,34.5, 40.4,33.3, 39.8,32.1, 39.5,30.0, 38.0,29.7, 35.9,29.7, 36.0,30.8, 36.5,31.5, 35.3,32.3, 29.0,32.3, 28.5,33.0],
  [46.5,29.0, 47.0,29.5, 47.5,29.0, 47.0,28.5],
  [40.7,27.0, 41.5,27.5, 43.0,27.5, 43.5,27.0, 43.0,26.5, 41.5,26.5],
  [38.5,40.0, 39.0,40.5, 39.5,40.0, 39.0,39.5]
];

// ================= LAYOUT =================
const panelBoxes = [
  {left: 21, top: 11.5, width: 351, height: 276},
  {left: 408.2, top: 11.5, width: 351, height: 276},
  {left: 794.3, top: 11.5, width: 351, height: 276},
  {left: 17.7, top: 360.4, width: 350.3, height: 276.8},
  {left: 403.7, top: 360.4, width: 350.3, height: 276.8},
  {left: 789.2, top: 360.4, width: 351, height: 276.8}
];
const BLUE = '#0000ff';
const chart = echarts.init(document.getElementById('c'), null, {renderer: 'canvas', width: 1137, height: 699});
const grids = [], xAxes = [], yAxes = [], series = [];
const labelStyle = {fontSize: 8, color: '#333', fontFamily: 'Liberation Sans, Arial, sans-serif'};
panelBoxes.forEach((b, i) => {
  grids.push({left: b.left, top: b.top, width: b.width, height: b.height, show: false});
  const base = {
    type: 'value', min: 1, max: 64, gridIndex: i, splitLine: {show: false},
    axisLine: {show: true, onZero: false, lineStyle: {color: '#000', width: 1.5}},
    axisTick: {show: true, inside: true, length: 4, customValues: tickValues, lineStyle: {color: '#000', width: 1}}
  };
  xAxes.push(Object.assign({}, base, {position: 'bottom', axisLabel: Object.assign({show: true, margin: 5, customValues: tickValues}, labelStyle)}));
  xAxes.push(Object.assign({}, base, {position: 'top', axisLabel: {show: false}}));
  yAxes.push(Object.assign({}, base, {position: 'left', axisLabel: Object.assign({show: true, margin: 5, customValues: tickValues}, labelStyle)}));
  yAxes.push(Object.assign({}, base, {position: 'right', axisLabel: {show: false}}));
});

function toPairs(flat) { const p = []; for (let i = 0; i + 1 < flat.length; i += 2) p.push([flat[i], flat[i + 1]]); return p; }
function addLine(panel, pts, smooth, width, extra) {
  series.push(Object.assign({
    type: 'line', xAxisIndex: 2 * panel, yAxisIndex: 2 * panel, data: pts, showSymbol: false, symbol: 'none',
    smooth: smooth, lineStyle: {color: BLUE, width: width}, silent: true, animation: false, z: 3
  }, extra || {}));
}
function addPanel(panel, opens, loops, bars, dots, smooth, width) {
  opens.forEach(fl => addLine(panel, toPairs(fl), smooth, width));
  loops.forEach(fl => { const p = toPairs(fl); p.push(p[0]); addLine(panel, p, smooth, width); });
  bars.forEach(fl => addLine(panel, toPairs(fl), false, 1.8));
  if (dots.length) series.push({type: 'scatter', xAxisIndex: 2 * panel, yAxisIndex: 2 * panel, data: toPairs(dots), symbol: 'circle', symbolSize: 2.2, itemStyle: {color: BLUE}, silent: true, animation: false, z: 3});
}

// Panel (a): trace the zero contour of the checker pattern
(function () {
  const nC = aLinesX.length - 1, nR = aLinesY.length - 1;
  const sign = (c, r) => (c < 0 || r < 0 || c >= nC || r >= nR) ? '+' : aCells[nR - 1 - r][c];
  const dirs = {N: [0, 1], S: [0, -1], E: [1, 0], W: [-1, 0]};
  function armEdge(k, m, a) {
    if (a === 'N') { if (m >= nR) return null; return sign(k - 1, m) !== sign(k, m) ? 'V' + k + '_' + m : null; }
    if (a === 'S') { if (m <= 0) return null; return sign(k - 1, m - 1) !== sign(k, m - 1) ? 'V' + k + '_' + (m - 1) : null; }
    if (a === 'E') { if (k >= nC) return null; return sign(k, m - 1) !== sign(k, m) ? 'H' + k + '_' + m : null; }
    if (a === 'W') { if (k <= 0) return null; return sign(k - 1, m - 1) !== sign(k - 1, m) ? 'H' + (k - 1) + '_' + m : null; }
    return null;
  }
  function partner(k, m, a) {
    const arms = ['N', 'E', 'S', 'W'].filter(x => armEdge(k, m, x));
    if (arms.length === 2) return arms[0] === a ? arms[1] : arms[0];
    const row = aTurns[nR - 1 - m];
    const t = row ? row[k - 1] : 'R';
    const pairs = t === 'R' ? {W: 'N', N: 'W', S: 'E', E: 'S'} : {W: 'S', S: 'W', N: 'E', E: 'N'};
    return pairs[a];
  }
  function edgeInfo(id) {
    const t = id[0], km = id.slice(1).split('_').map(Number), k = km[0], m = km[1];
    if (t === 'V') return {a: [k, m], aArm: 'N', b: [k, m + 1], bArm: 'S', mid: [aLinesX[k], (aLinesY[m] + aLinesY[m + 1]) / 2]};
    return {a: [k, m], aArm: 'E', b: [k + 1, m], bArm: 'W', mid: [(aLinesX[k] + aLinesX[k + 1]) / 2, aLinesY[m]]};
  }
  const all = [];
  for (let k = 0; k <= nC; k++) for (let m = 0; m <= nR; m++) ['N', 'E'].forEach(a => { const e = armEdge(k, m, a); if (e) all.push(e); });
  const seen = new Set();
  all.forEach(start => {
    if (seen.has(start)) return;
    const pts = [];
    let id = start, info = edgeInfo(id), node = info.b, arrive = info.bArm, guard = 0;
    while (guard++ < 5000) {
      seen.add(id);
      pts.push(info.mid);
      const k = node[0], m = node[1];
      const out = partner(k, m, arrive);
      if (!out) break;
      const dx = (aLinesX[Math.min(k + 1, nC)] - aLinesX[Math.max(k - 1, 0)]) / 2;
      const dy = (aLinesY[Math.min(m + 1, nR)] - aLinesY[Math.max(m - 1, 0)]) / 2;
      const ua = dirs[arrive], ub = dirs[out];
      pts.push([aLinesX[k] + 0.16 * dx * (ua[0] + ub[0]), aLinesY[m] + 0.16 * dy * (ua[1] + ub[1])]);
      const nid = armEdge(k, m, out);
      if (!nid || nid === start) break;
      id = nid; info = edgeInfo(id);
      if (info.a[0] === k && info.a[1] === m) { node = info.b; arrive = info.bArm; } else { node = info.a; arrive = info.aArm; }
    }
    pts.push(pts[0]);
    addLine(0, pts, 0.5, 1.15);
  });
  addLine(0, [[aEdgeDashLeft[0], aEdgeDashLeft[1]], [aEdgeDashLeft[2], aEdgeDashLeft[3]]], false, 1.6, {lineStyle: {color: BLUE, width: 1.6, type: [4, 9]}});
  addLine(0, [[aEdgeDashBottom[0], aEdgeDashBottom[1]], [aEdgeDashBottom[2], aEdgeDashBottom[3]]], false, 1.6, {lineStyle: {color: BLUE, width: 1.6, type: [7, 15], dashOffset: -3}});
})();

addPanel(1, [bOuter, bLeft, bTop, bNotch, bRightTop, bMidTop, bMidBot, bLowMid, bLowRight], bLoops, bBars, bDots, 0.3, 1.1);
addPanel(2, [cOuter, cLeft, cTopLeft, cRightTop, cMidTop, cMidBot, cLow, cLowMid], cLoops, cBars, cDots, 0.3, 1.1);
addPanel(3, [dOuter, dInner1, dInner3, dInner4, dInner6], dLoops, dBars, dDots, 0.3, 1.1);
addPanel(4, [eOuter, eInner1, eInner3, eInner4, eInner6], eLoops, eBars, eDots, 0.3, 1.1);
addPanel(5, [fOuter, fA, fB, fC, fE, fF, fG, fH, fI, fJ], fLoops, [], [], false, 1.6);

// ================= CAPTIONS =================
const capFont = 'Liberation Serif, DejaVu Serif, serif';
const capSize = 24, subSize = 16, capScale = 1.14;
const capPos = [[188, 333], [574, 333], [960, 333], [188, 683], [574, 683], [958, 683]];
const graphics = [];
const meas = document.createElement('canvas').getContext('2d');
capPos.forEach((p, i) => {
  const hasPhi = (i === 0 || i === 5);
  meas.font = capSize + 'px ' + capFont;
  const w1 = meas.measureText(captions[i]).width;
  meas.font = 'italic ' + capSize + 'px ' + capFont;
  const w2 = hasPhi ? meas.measureText('ϕ').width : 0;
  meas.font = subSize + 'px ' + capFont;
  const w3 = hasPhi ? meas.measureText('2').width + 1 : 0;
  const total = w1 + w2 + w3, x0 = -total / 2;
  const children = [{type: 'text', x: x0, y: 0, style: {text: captions[i], font: capSize + 'px ' + capFont, fill: '#000', align: 'left', verticalAlign: 'middle'}}];
  if (hasPhi) {
    children.push({type: 'text', x: x0 + w1, y: 0, style: {text: 'ϕ', font: 'italic ' + capSize + 'px ' + capFont, fill: '#000', align: 'left', verticalAlign: 'middle'}});
    children.push({type: 'text', x: x0 + w1 + w2 + 1, y: 6, style: {text: '2', font: subSize + 'px ' + capFont, fill: '#000', align: 'left', verticalAlign: 'middle'}});
  }
  graphics.push({type: 'group', x: p[0], y: p[1], scaleX: capScale, z: 10, children: children});
});
graphics.push({type: 'rect', shape: {x: 780, y: 341, width: 360, height: 19}, style: {fill: '#fff'}, z: 20});
graphics.push({type: 'text', x: 966, y: 351, z: 21, style: {text: 'phi true', font: '8px Liberation Sans, Arial, sans-serif', fill: '#333', align: 'center', verticalAlign: 'middle'}});

chart.setOption({animation: false, backgroundColor: '#fff', grid: grids, xAxis: xAxes, yAxis: yAxes, series: series, graphic: graphics});
</script></body></html>
